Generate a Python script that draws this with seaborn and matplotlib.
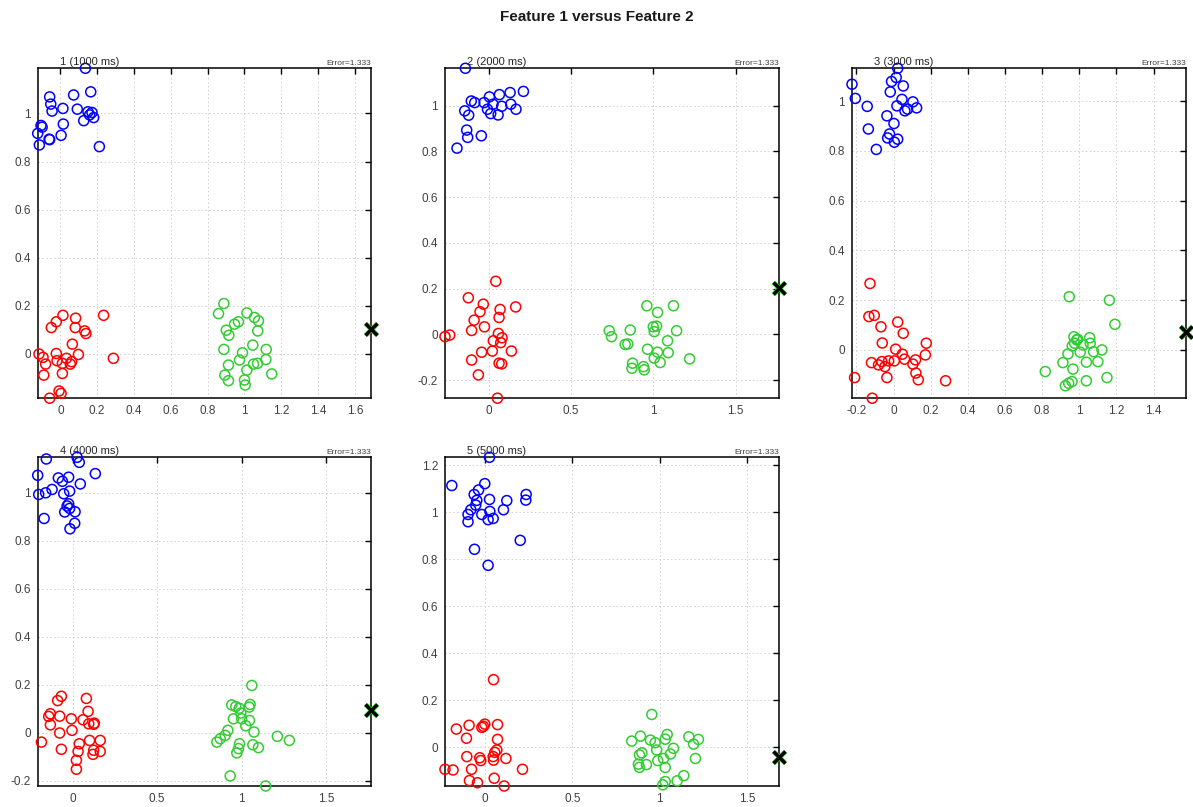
import matplotlib
matplotlib.use("Agg")
import matplotlib.pyplot as plt
from matplotlib.ticker import MultipleLocator, FuncFormatter
import numpy as np
import pandas as pd
import seaborn as sns

# ---- Panel 1 (1000 ms) ----
blue1_x = [0.136, -0.058, -0.052, -0.045, 0.072, 0.165, 0.014, 0.092, 0.150, 0.172, 0.159,
           0.181, 0.127, -0.105, -0.099, 0.016, -0.123, -0.061, -0.058, 0.004, -0.114, 0.212]
blue1_y = [1.188, 1.069, 1.039, 1.010, 1.077, 1.090, 1.021, 1.018, 1.007, 1.004, 0.994,
           0.983, 0.970, 0.950, 0.943, 0.956, 0.917, 0.893, 0.891, 0.909, 0.869, 0.862]
red1_x = [0.014, 0.235, 0.083, -0.022, -0.049, 0.081, 0.132, 0.139, 0.065, -0.116, -0.094,
          -0.080, -0.022, -0.018, 0.011, 0.033, 0.061, 0.054, 0.098, 0.288, 0.011, -0.090,
          -0.007, 0.004, -0.058]
red1_y = [0.160, 0.160, 0.148, 0.133, 0.109, 0.109, 0.095, 0.084, 0.040, -0.001, -0.015,
          -0.043, 0.001, -0.029, -0.040, -0.019, -0.033, -0.043, -0.003, -0.019, -0.082,
          -0.089, -0.155, -0.165, -0.185]
green1_x = [0.888, 0.859, 1.013, 1.054, 1.076, 0.967, 0.946, 0.901, 0.915, 1.072, 1.045,
            0.888, 0.989, 1.118, 0.973, 1.116, 0.913, 1.049, 1.071, 1.013, 0.893, 1.148,
            0.913, 1.000, 1.004]
green1_y = [0.209, 0.167, 0.170, 0.151, 0.137, 0.133, 0.123, 0.098, 0.077, 0.095, 0.036,
            0.018, 0.004, 0.018, -0.026, -0.024, -0.047, -0.043, -0.040, -0.068, -0.089,
            -0.084, -0.112, -0.109, -0.130]
cross1 = [1.687, 0.105]

# ---- Panel 2 (2000 ms) ----
blue2_x = [-0.144, 0.209, 0.128, 0.063, 0.002, -0.108, -0.087, -0.030, 0.024, 0.132, 0.077,
           -0.010, 0.164, -0.148, 0.010, 0.055, -0.124, -0.136, -0.130, -0.047, -0.195]
blue2_y = [1.163, 1.062, 1.057, 1.048, 1.038, 1.020, 1.013, 1.013, 1.006, 1.006, 0.997,
           0.984, 0.984, 0.977, 0.965, 0.959, 0.958, 0.893, 0.861, 0.868, 0.814]
red2_x = [0.041, -0.126, -0.035, 0.162, 0.067, -0.055, 0.061, -0.091, -0.028, -0.106, -0.268,
          -0.239, 0.057, 0.079, 0.026, 0.071, -0.045, 0.020, 0.136, -0.106, 0.061, 0.077,
          -0.065, 0.051]
red2_y = [0.232, 0.160, 0.132, 0.120, 0.109, 0.099, 0.074, 0.062, 0.033, 0.017, -0.010,
          -0.003, 0.004, -0.015, -0.028, -0.036, -0.078, -0.073, -0.073, -0.112, -0.126,
          -0.129, -0.177, -0.279]
green2_x = [1.122, 0.960, 1.025, 0.999, 1.019, 1.141, 0.859, 0.731, 0.745, 1.005, 1.086,
            0.828, 0.844, 0.964, 1.025, 1.090, 1.005, 1.041, 1.220, 0.873, 0.869, 0.940, 0.944]
green2_y = [0.125, 0.125, 0.096, 0.033, 0.036, 0.016, 0.019, 0.016, -0.010, 0.012, -0.028,
            -0.044, -0.042, -0.065, -0.078, -0.080, -0.104, -0.123, -0.107, -0.126, -0.148,
            -0.141, -0.155]
cross2 = [1.762, 0.202]

# ---- Panel 3 (3000 ms) ----
blue3_x = [0.022, 0.014, -0.011, -0.224, 0.052, -0.018, -0.206, 0.045, 0.104, 0.018, -0.142,
           0.124, 0.075, 0.061, -0.036, 0.002, -0.136, -0.022, -0.032, 0.022, 0.004, -0.093]
blue3_y = [1.132, 1.095, 1.079, 1.068, 1.061, 1.037, 1.011, 1.007, 0.997, 0.981, 0.979,
           0.973, 0.968, 0.961, 0.941, 0.910, 0.888, 0.868, 0.852, 0.847, 0.835, 0.806]
red3_x = [-0.127, -0.133, -0.104, -0.068, 0.022, 0.052, -0.061, 0.176, 0.011, 0.171, 0.047,
          0.059, 0.004, -0.027, -0.063, -0.119, -0.081, -0.047, 0.118, 0.104, 0.120, 0.133,
          -0.036, -0.210, 0.280, -0.115]
red3_y = [0.267, 0.134, 0.139, 0.093, 0.112, 0.067, 0.028, 0.027, 0.003, -0.020, -0.017,
          -0.037, -0.044, -0.044, -0.047, -0.051, -0.060, -0.067, -0.040, -0.057, -0.093,
          -0.120, -0.111, -0.111, -0.124, -0.194]
green3_x = [0.946, 1.162, 1.192, 0.971, 0.991, 1.056, 0.975, 0.962, 1.020, 1.059, 1.122,
            1.077, 1.005, 0.939, 1.100, 1.038, 0.912, 0.966, 0.817, 1.149, 1.038, 0.961,
            0.943, 0.925, 0.986]
green3_y = [0.214, 0.200, 0.103, 0.053, 0.043, 0.049, 0.027, 0.016, 0.020, 0.027, 0.000,
            -0.007, -0.009, -0.016, -0.047, -0.049, -0.051, -0.077, -0.087, -0.111, -0.124,
            -0.127, -0.134, -0.144, 0.040]
cross3 = [1.573, 0.072]

# ---- Panel 4 (4000 ms) ----
blue4_x = [-0.156, 0.026, 0.039, 0.134, -0.207, -0.085, -0.061, -0.024, 0.045, -0.122, -0.018,
           -0.160, -0.201, -0.053, -0.024, -0.033, -0.018, 0.014, -0.047, -0.169, 0.012, -0.016]
blue4_y = [1.141, 1.148, 1.127, 1.080, 1.073, 1.062, 1.048, 1.065, 1.037, 1.014, 1.007,
           1.000, 0.993, 0.996, 0.954, 0.945, 0.935, 0.921, 0.920, 0.893, 0.873, 0.850]
red4_x = [-0.067, -0.089, 0.081, -0.132, -0.142, -0.077, -0.008, 0.091, 0.061, 0.095, 0.128,
          0.124, -0.132, -0.004, -0.077, -0.185, 0.100, 0.163, 0.039, -0.067, 0.032, 0.124,
          0.163, 0.120, 0.022, 0.022]
red4_y = [0.152, 0.134, 0.143, 0.079, 0.068, 0.069, 0.058, 0.089, 0.054, 0.037, 0.040,
          0.035, 0.033, 0.010, -0.001, -0.039, -0.032, -0.032, -0.046, -0.069, -0.078,
          -0.073, -0.078, -0.090, -0.115, -0.152]
green4_x = [1.060, 1.050, 0.941, 0.965, 0.985, 1.044, 0.995, 1.046, 0.951, 1.000, 1.024,
            0.918, 1.073, 0.902, 0.873, 0.853, 1.211, 1.282, 0.987, 1.066, 1.099, 0.981,
            0.971, 0.932, 1.142]
green4_y = [0.197, 0.118, 0.116, 0.109, 0.102, 0.107, 0.082, 0.051, 0.058, 0.058, 0.029,
            0.010, 0.003, -0.011, -0.025, -0.039, -0.015, -0.032, -0.046, -0.050, -0.062,
            -0.066, -0.084, -0.180, -0.222]
cross4 = [1.765, 0.093]

# ---- Panel 5 (5000 ms) ----
blue5_x = [0.025, -0.191, -0.002, -0.038, -0.063, 0.235, 0.233, -0.048, 0.025, 0.124, -0.054,
           -0.082, 0.105, 0.027, -0.098, -0.019, 0.046, 0.017, -0.098, 0.201, -0.061, 0.017]
blue5_y = [1.233, 1.113, 1.121, 1.094, 1.075, 1.075, 1.051, 1.050, 1.054, 1.049, 1.030,
           1.010, 1.010, 1.003, 0.990, 0.990, 0.973, 0.968, 0.959, 0.880, 0.842, 0.774]
red5_x = [0.048, -0.165, -0.092, -0.019, -0.002, -0.010, 0.071, -0.107, 0.071, 0.067, 0.055,
          0.046, -0.105, -0.031, -0.025, 0.048, 0.119, -0.230, -0.184, -0.078, 0.214, 0.052,
          -0.090, -0.044, 0.109]
red5_y = [0.288, 0.078, 0.094, 0.085, 0.099, 0.090, 0.097, 0.039, 0.034, -0.011, -0.021,
          -0.039, -0.039, -0.044, -0.056, -0.054, -0.047, -0.093, -0.096, -0.093, -0.093,
          -0.131, -0.141, -0.150, -0.164]
green5_x = [0.955, 0.890, 0.840, 0.947, 0.974, 1.043, 1.032, 1.167, 1.222, 1.194, 1.079,
            0.983, 0.898, 0.884, 1.062, 1.022, 0.989, 1.205, 0.878, 0.924, 0.884, 1.032,
            1.138, 1.100, 1.032, 1.018]
green5_y = [0.140, 0.048, 0.027, 0.031, 0.020, 0.055, 0.035, 0.045, 0.034, 0.014, -0.004,
            -0.011, -0.023, -0.032, -0.028, -0.047, -0.056, -0.047, -0.071, -0.073, -0.085,
            -0.085, -0.120, -0.142, -0.145, -0.159]
cross5 = [1.682, -0.042]

panel_titles = ["1 (1000 ms)", "2 (2000 ms)", "3 (3000 ms)", "4 (4000 ms)", "5 (5000 ms)"]
error_labels = ["Error=1.333"] * 5
x_steps = [0.2, 0.5, 0.2, 0.5, 0.5]

panels = [
    (blue1_x, blue1_y, red1_x, red1_y, green1_x, green1_y, cross1),
    (blue2_x, blue2_y, red2_x, red2_y, green2_x, green2_y, cross2),
    (blue3_x, blue3_y, red3_x, red3_y, green3_x, green3_y, cross3),
    (blue4_x, blue4_y, red4_x, red4_y, green4_x, green4_y, cross4),
    (blue5_x, blue5_y, red5_x, red5_y, green5_x, green5_y, cross5),
]

palette = {"A": "#0000ff", "B": "#ff0000", "C": "#33cc33"}

sns.set_style("white")
plt.rcParams["font.family"] = ["Liberation Sans", "DejaVu Sans"]

W, H = 1193, 807
fig = plt.figure(figsize=(W / 100, H / 100), dpi=100)

# axes rectangles in pixels: left, top, right, bottom
boxes = [
    (37.7, 68.3, 371.0, 398.2),
    (445.0, 68.3, 778.7, 398.2),
    (852.0, 68.3, 1185.7, 398.2),
    (37.7, 457.3, 371.0, 786.0),
    (445.0, 457.3, 778.7, 786.0),
]


def fmt(v, _pos):
    v = round(v, 6)
    if abs(v) < 1e-9:
        v = 0.0
    return f"{v:g}"


for i, (box, data) in enumerate(zip(boxes, panels)):
    l, t, r, b = box
    ax = fig.add_axes([l / W, 1 - b / H, (r - l) / W, (b - t) / H])
    bx, by, rx, ry, gx, gy, cross = data
    df = pd.DataFrame({
        "f1": list(bx) + list(rx) + list(gx),
        "f2": list(by) + list(ry) + list(gy),
        "cls": ["A"] * len(bx) + ["B"] * len(rx) + ["C"] * len(gx),
    })
    sns.scatterplot(data=df, x="f1", y="f2", hue="cls", palette=palette,
                    s=52, legend=False, ax=ax, zorder=3)
    coll = ax.collections[-1]
    fc = coll.get_facecolors()
    coll.set_edgecolors(fc)
    coll.set_facecolors("none")
    coll.set_linewidths(1.1)
    coll.set_clip_on(False)

    # cross marker
    ax.plot([cross[0]], [cross[1]], marker="x", ms=9, mew=3.4, color="#33cc33",
            ls="none", clip_on=False, zorder=5)
    ax.plot([cross[0]], [cross[1]], marker="x", ms=8.5, mew=2.4, color="black",
            ls="none", clip_on=False, zorder=6)

    xs = df["f1"].tolist() + [cross[0]]
    ys = df["f2"].tolist() + [cross[1]]
    ax.set_xlim(min(xs), max(xs))
    ax.set_ylim(min(ys), max(ys))

    ax.xaxis.set_major_locator(MultipleLocator(x_steps[i]))
    ax.yaxis.set_major_locator(MultipleLocator(0.2))
    ax.xaxis.set_major_formatter(FuncFormatter(fmt))
    ax.yaxis.set_major_formatter(FuncFormatter(fmt))
    ax.tick_params(direction="in", top=True, right=True, length=4, width=1.0,
                   labelsize=8.5, labelcolor="#404040", color="black", pad=5)
    ax.grid(True, ls=(0, (1.5, 2.5)), color="#cfcfcf", lw=0.7)
    ax.set_axisbelow(True)
    for sp in ax.spines.values():
        sp.set_color("black")
        sp.set_linewidth(1.1)
    ax.set_xlabel("")
    ax.set_ylabel("")

    ax.text(0.155, 1.004, panel_titles[i], transform=ax.transAxes, ha="center",
            va="bottom", fontsize=8, color="#262626")
    ax.text(1.0, 1.004, error_labels[i], transform=ax.transAxes, ha="right",
            va="bottom", fontsize=6, color="#404040")

fig.text(0.5, 1 - 17 / H, "Feature 1 versus Feature 2", ha="center", va="center",
         fontsize=11, fontweight="bold", color="#1a1a1a")

fig.savefig("out.png", dpi=100)
